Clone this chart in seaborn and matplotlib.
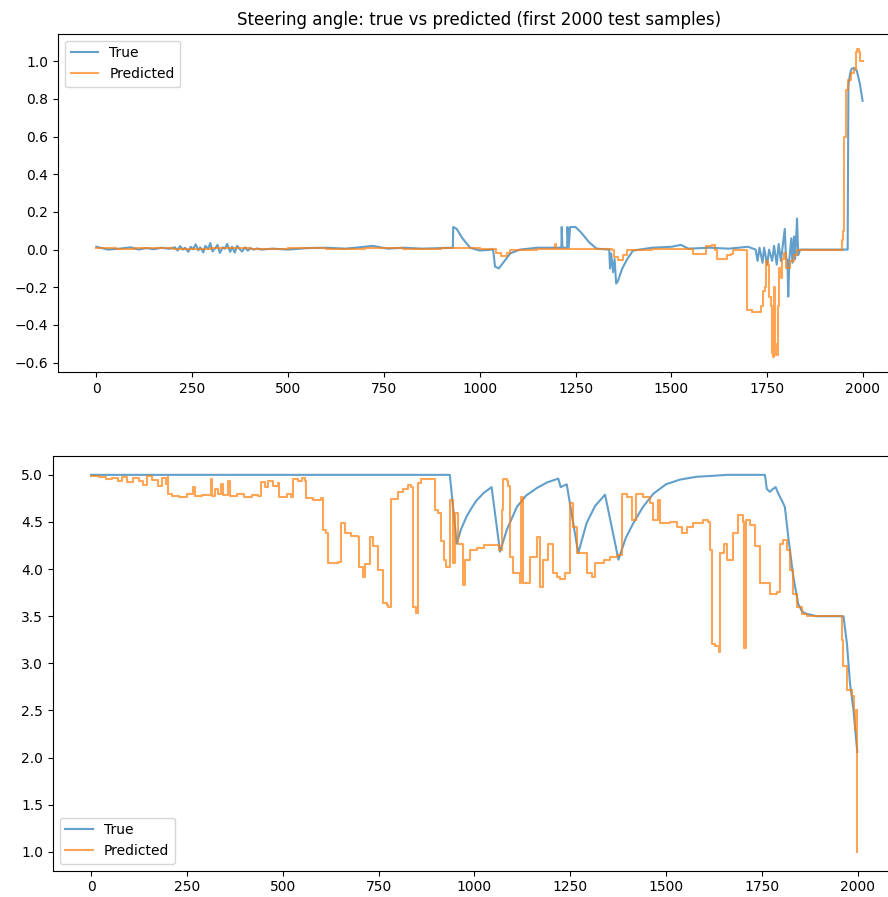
import matplotlib
matplotlib.use("Agg")
import matplotlib.pyplot as plt
import seaborn as sns
import pandas as pd

# --- Dados ---
# Ângulo de direção: pontos (amostra, valor)
steer_true_idx = [0, 10, 30, 60, 90, 110, 130, 150, 170, 190, 205, 212, 218, 226, 231, 240, 246,
                  252, 259, 266, 271, 279, 284, 292, 297, 303, 311, 316, 322, 330, 335, 341, 349,
                  354, 361, 367, 374, 380, 388, 395, 402, 410, 420, 430, 460, 500, 550, 600, 650,
                  700, 720, 760, 800, 850, 900, 930, 931, 940, 955, 975, 1000, 1035, 1040, 1050,
                  1065, 1080, 1105, 1150, 1200, 1213, 1214, 1216, 1228, 1229, 1232, 1236, 1250,
                  1265, 1285, 1305, 1338, 1340, 1343, 1348, 1352, 1356, 1360, 1372, 1385, 1400,
                  1450, 1500, 1525, 1545, 1600, 1650, 1700, 1720, 1725, 1730, 1738, 1742, 1750,
                  1755, 1763, 1768, 1775, 1780, 1786, 1796, 1799, 1803, 1805, 1808, 1813, 1816,
                  1820, 1823, 1828, 1831, 1836, 1960, 1962, 1966, 1970, 1976, 1984, 1992, 1999]
steer_true_val = [0.015, 0.01, 0.0, 0.005, 0.012, 0.0, 0.008, 0.002, 0.01, 0.004, 0.012, -0.005,
                  0.018, 0.0, 0.01, -0.012, 0.015, 0.002, 0.028, -0.004, 0.012, -0.015, 0.02,
                  0.004, 0.035, -0.01, 0.01, 0.025, -0.018, 0.012, 0.004, 0.03, -0.012, 0.015,
                  -0.016, 0.02, 0.002, -0.01, 0.012, -0.006, 0.008, 0.0, 0.006, 0.0, 0.005, 0.0,
                  0.008, 0.01, 0.005, 0.015, 0.02, 0.005, 0.01, 0.005, 0.008, 0.01, 0.12, 0.11,
                  0.06, 0.01, -0.005, 0.0, -0.09, -0.10, -0.06, -0.02, 0.0, 0.01, 0.01, 0.01, 0.12,
                  0.01, 0.01, 0.12, 0.01, 0.12, 0.12, 0.09, 0.04, 0.005, 0.0, -0.1, -0.02, -0.12,
                  -0.05, -0.18, -0.17, -0.1, -0.05, -0.005, 0.01, 0.015, 0.025, 0.005, 0.01, 0.005,
                  0.015, 0.0, -0.06, 0.01, -0.07, 0.01, -0.08, 0.0, -0.06, 0.02, -0.08, 0.03,
                  -0.06, 0.11, -0.04, -0.06, -0.25, -0.05, 0.06, -0.07, 0.07, -0.05, 0.165, -0.03,
                  0.0, 0.0, 0.87, 0.93, 0.96, 0.965, 0.95, 0.88, 0.79]

steer_pred_idx = [0, 50, 100, 200, 300, 400, 500, 600, 700, 800, 900, 1000, 1038, 1042, 1055, 1070,
                  1080, 1150, 1195, 1197, 1199, 1300, 1345, 1350, 1360, 1375, 1385, 1450, 1555,
                  1557, 1587, 1590, 1605, 1615, 1618, 1643, 1645, 1655, 1660, 1695, 1698, 1710,
                  1730, 1735, 1740, 1745, 1748, 1752, 1756, 1760, 1762, 1765, 1768, 1771, 1774,
                  1777, 1780, 1785, 1790, 1795, 1800, 1810, 1820, 1828, 1940, 1944, 1947, 1950,
                  1955, 1962, 1970, 1976, 1981, 1985, 1989, 1992, 1999]
steer_pred_val = [0.01, 0.005, 0.01, 0.005, 0.01, 0.005, 0.01, 0.005, 0.01, 0.005, 0.01, 0.005,
                  0.005, -0.02, -0.035, -0.02, 0.0, 0.005, 0.005, 0.03, 0.005, 0.005, 0.0, -0.04,
                  -0.055, -0.03, 0.0, 0.005, 0.005, -0.025, -0.025, 0.02, 0.025, 0.0, -0.05, -0.05,
                  -0.03, -0.025, 0.0, 0.0, -0.32, -0.33, -0.33, -0.3, -0.22, -0.2, -0.06, -0.08,
                  -0.25, -0.3, -0.55, -0.57, -0.2, -0.5, -0.56, -0.3, -0.1, -0.15, -0.05, -0.02,
                  -0.1, -0.06, -0.03, 0.0, 0.0, 0.05, 0.1, 0.6, 0.85, 0.9, 0.94, 0.96, 1.05, 1.065,
                  1.05, 1.0, 1.0]

# Velocidade: pontos (amostra, valor)
speed_true_idx = [0, 936, 954, 965, 980, 993, 1006, 1025, 1045, 1067, 1085, 1111, 1135, 1163, 1190,
                  1219, 1225, 1241, 1271, 1293, 1315, 1341, 1376, 1395, 1415, 1440, 1467, 1500,
                  1537, 1580, 1624, 1660, 1758, 1763, 1771, 1779, 1786, 1793, 1802, 1810, 1819,
                  1832, 1845, 1855, 1863, 1893, 1963, 1972, 1980, 1989, 1999]
speed_true_val = [5.0, 5.0, 4.27, 4.42, 4.56, 4.65, 4.73, 4.81, 4.87, 4.185, 4.42, 4.66, 4.78, 4.86,
                  4.92, 4.96, 4.87, 4.90, 4.17, 4.49, 4.67, 4.79, 4.10, 4.33, 4.49, 4.66, 4.80,
                  4.90, 4.95, 4.98, 4.99, 5.0, 5.0, 4.85, 4.82, 4.85, 4.87, 4.80, 4.73, 4.66, 4.34,
                  3.92, 3.63, 3.55, 3.53, 3.50, 3.50, 3.21, 2.79, 2.51, 2.06]

speed_pred_idx = [0, 20, 40, 55, 70, 80, 95, 110, 125, 135, 145, 160, 175, 185, 195, 200, 201, 210,
                  230, 250, 266, 270, 290, 312, 316, 323, 330, 340, 345, 358, 362, 380, 400, 420,
                  436, 444, 455, 462, 475, 488, 490, 510, 523, 527, 540, 550, 557, 562, 580, 600,
                  605, 612, 618, 640, 644, 653, 662, 679, 697, 700, 710, 715, 727, 736, 749, 762,
                  771, 776, 783, 801, 815, 827, 836, 840, 849, 853, 862, 888, 897, 906, 914, 920,
                  927, 936, 944, 950, 958, 970, 976, 989, 1006, 1024, 1050, 1065, 1071, 1076,
                  1084, 1089, 1093, 1102, 1119, 1123, 1126, 1137, 1145, 1163, 1171, 1180, 1193,
                  1206, 1215, 1224, 1237, 1250, 1258, 1267, 1280, 1293, 1306, 1315, 1337, 1354,
                  1371, 1384, 1397, 1410, 1423, 1441, 1458, 1467, 1480, 1484, 1510, 1528, 1541,
                  1554, 1571, 1597, 1610, 1615, 1619, 1628, 1637, 1641, 1650, 1658, 1676, 1689,
                  1697, 1701, 1704, 1707, 1709, 1719, 1732, 1745, 1758, 1771, 1789, 1798, 1806,
                  1815, 1823, 1832, 1841, 1854, 1867, 1954, 1958, 1963, 1972, 1985, 1991, 1994,
                  1997, 1998, 1999]
speed_pred_val = [4.99, 4.98, 4.96, 4.97, 4.93, 4.98, 4.92, 4.97, 4.93, 4.89, 4.99, 4.95, 4.88,
                  4.97, 4.90, 4.98, 4.80, 4.78, 4.77, 4.80, 4.87, 4.78, 4.79, 4.96, 4.78, 4.85,
                  4.80, 4.90, 4.79, 4.94, 4.78, 4.80, 4.77, 4.79, 4.78, 4.92, 4.87, 4.93, 4.88,
                  4.91, 4.77, 4.80, 4.76, 4.96, 4.93, 4.97, 4.94, 4.75, 4.73, 4.75, 4.41, 4.38,
                  4.06, 4.06, 4.08, 4.49, 4.38, 4.35, 4.34, 4.02, 3.92, 4.05, 4.34, 4.24, 3.99,
                  3.64, 3.62, 3.60, 4.74, 4.82, 4.85, 4.89, 4.87, 3.60, 3.53, 4.91, 4.96, 4.96,
                  4.63, 4.59, 4.30, 4.10, 4.02, 4.73, 4.06, 4.59, 4.27, 3.83, 4.10, 4.20, 4.22,
                  4.26, 4.26, 4.20, 4.63, 4.96, 4.93, 4.88, 4.13, 3.96, 3.85, 4.77, 3.85, 3.85,
                  4.13, 4.34, 3.81, 4.10, 4.27, 3.96, 3.92, 3.89, 3.96, 4.70, 4.45, 4.17, 4.17,
                  3.96, 3.92, 4.06, 4.10, 4.13, 4.15, 4.80, 4.77, 4.52, 4.80, 4.77, 4.70, 4.52,
                  4.73, 4.49, 4.50, 4.45, 4.38, 4.45, 4.49, 4.52, 4.50, 4.20, 3.21, 3.18, 3.12,
                  4.17, 4.27, 4.10, 4.38, 4.57, 4.57, 4.50, 3.16, 3.16, 4.52, 4.47, 4.24, 3.85,
                  3.85, 3.74, 3.76, 4.27, 4.31, 4.20, 3.99, 3.74, 3.60, 3.52, 3.50, 3.50, 3.25,
                  2.97, 2.72, 2.65, 2.50, 2.29, 2.50, 1.02, 1.00]

# --- Figura ---
fig = plt.figure(figsize=(8.88, 8.97), dpi=100)
W, H = 888, 897
ax1 = fig.add_axes([58.1 / W, 1 - 372.3 / H, 842.8 / W, 338.6 / H])
ax2 = fig.add_axes([52.7 / W, 1 - 870.7 / H, 842.9 / W, 414.7 / H])

blue, orange = "tab:blue", "tab:orange"


def draw(ax, t_idx, t_val, p_idx, p_val, loc):
    df_t = pd.DataFrame({"idx": t_idx, "val": t_val})
    df_p = pd.DataFrame({"idx": p_idx, "val": p_val})
    sns.lineplot(data=df_t, x="idx", y="val", ax=ax, color=blue, alpha=0.7,
                 linewidth=1.5, label="True", estimator=None, sort=False)
    # previsão em degraus, como no original
    sns.lineplot(data=df_p, x="idx", y="val", ax=ax, color=orange, alpha=0.7,
                 linewidth=1.5, label="Predicted", estimator=None, sort=False,
                 drawstyle="steps-post")
    ax.set_xlabel("")
    ax.set_ylabel("")
    ax.set_xticks([0, 250, 500, 750, 1000, 1250, 1500, 1750, 2000])
    ax.legend(loc=loc)


draw(ax1, steer_true_idx, steer_true_val, steer_pred_idx, steer_pred_val, "upper left")
ax1.set_title("Steering angle: true vs predicted (first 2000 test samples)")

draw(ax2, speed_true_idx, speed_true_val, speed_pred_idx, speed_pred_val, "lower left")

fig.savefig("out.png", dpi=100)
